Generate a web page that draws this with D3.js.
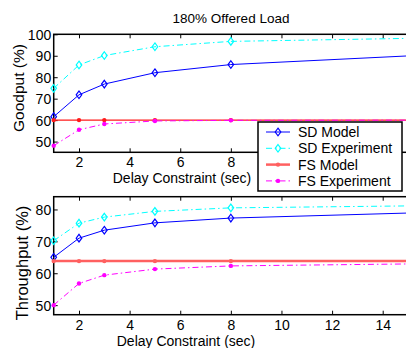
<!DOCTYPE html>
<html><head><meta charset="utf-8">
<script src="https://cdn.jsdelivr.net/npm/d3@7"></script>
<style>
body{margin:0;background:#fff}
svg{display:block}
text{font-family:"Liberation Sans",Arial,Helvetica,sans-serif;fill:#000}
</style>
</head><body>
<svg id="chart" width="406" height="348"></svg>
<script>
// Delay constraint (sec) at which each series was evaluated
const delays = [1, 2, 3, 5, 8, 16];

// Goodput (%)
const goodputSDModel = [61.6, 71.8, 76.8, 82.1, 85.9, 90.5];
const goodputSDExp   = [74.8, 85.7, 90.1, 94.2, 96.7, 98.3];
const goodputFSModel = [60.0, 60.0, 60.0, 60.0, 60.0, 60.0];
const goodputFSExp   = [48.1, 55.5, 58.2, 59.6, 59.9, 60.0];

// Throughput (%)
const throughputSDModel = [65.0, 71.0, 73.5, 75.8, 77.3, 79.1];
const throughputSDExp   = [70.2, 75.7, 77.6, 79.4, 80.5, 81.2];
const throughputFSModel = [63.8, 63.8, 63.8, 63.8, 63.8, 63.8];
const throughputFSExp   = [50.0, 56.8, 59.4, 61.3, 62.3, 63.0];

const seriesNames = ["SD Model", "SD Experiment", "FS Model", "FS Experiment"];
const xTicks = [2, 4, 6, 8, 10, 12, 14];
const goodputTicks = [50, 60, 70, 80, 90, 100];
const throughputTicks = [50, 60, 70, 80];

const styles = [
  {color: "#0000ff", dash: null, marker: "diamond", width: 1},
  {color: "#00ffff", dash: "6,3,1.5,3", marker: "diamond", width: 1},
  {color: "#ff1a1a", dash: null, marker: "dot", width: 1.3},
  {color: "#ff00ff", dash: "6,3,1.5,3", marker: "dot", width: 1}
];

const legendBox = {x: 258, y: 122, w: 144, h: 69};

const svg = d3.select("#chart");
const x = d3.scaleLinear().domain([1, 15]).range([53.7, 408]);

function drawPanel(opts) {
  const y = d3.scaleLinear().domain(opts.yDomain).range(opts.yRange);
  const [x0, x1] = x.range();
  const [yb, yt] = opts.yRange;
  const g = svg.append("g");

  const clipId = "clip" + opts.id;
  svg.append("defs").append("clipPath").attr("id", clipId)
    .append("rect").attr("x", 0).attr("y", yt - 10)
    .attr("width", x1).attr("height", yb - yt + 20);

  // axes with inward ticks, mirrored on the top edge
  const bottom = d3.axisBottom(x).tickValues(xTicks).tickSize(-4).tickFormat(d3.format("d"));
  const top = d3.axisTop(x).tickValues(xTicks).tickSize(-4).tickFormat("");
  const left = d3.axisLeft(y).tickValues(opts.yTicks).tickSize(-4).tickPadding(2.5).tickFormat(d3.format("d"));

  const gb = g.append("g").attr("transform", `translate(0,${yb})`).call(bottom);
  const gt = g.append("g").attr("transform", `translate(0,${yt})`).call(top);
  const gl = g.append("g").attr("transform", `translate(${x0},0)`).call(left);
  [gb, gt, gl].forEach(a => {
    a.select(".domain").remove();
    a.selectAll(".tick line").attr("stroke", "#000").attr("stroke-width", 1);
    a.selectAll(".tick text").attr("font-size", 14);
  });
  gb.selectAll(".tick text").attr("dy", null).attr("y", opts.xTickDy);
  // labels sitting under the legend box are covered by it
  if (opts.hideUnderLegend) {
    gb.selectAll(".tick text").filter(d => x(d) > legendBox.x - 6).remove();
  }
  gl.selectAll(".tick text").attr("dy", "0.36em");

  // axes box
  g.append("rect").attr("x", x0).attr("y", yt)
    .attr("width", x1 - x0).attr("height", yb - yt)
    .attr("fill", "none").attr("stroke", "#000").attr("stroke-width", 1.5);

  // axis labels
  g.append("text").attr("x", opts.xLabelX).attr("y", opts.xLabelY)
    .attr("text-anchor", "middle").attr("font-size", 14).text("Delay Constraint (sec)");
  g.append("text").attr("transform", `translate(${opts.yLabelX},${opts.yLabelY}) rotate(-90)`)
    .attr("text-anchor", "middle").attr("font-size", opts.yLabelSize).text(opts.yLabel);

  const data = g.append("g").attr("clip-path", `url(#${clipId})`);
  const line = d3.line().x(d => x(d[0])).y(d => y(d[1]));

  opts.series.forEach((vals, i) => {
    const st = Object.assign({}, styles[i], (opts.overrides || {})[i] || {});
    const pts = delays.map((d, k) => [d, vals[k]]);
    data.append("path").datum(pts).attr("d", line)
      .attr("fill", "none").attr("stroke", st.color)
      .attr("stroke-width", st.width)
      .attr("stroke-dasharray", st.dash);
    drawMarkers(data, pts.map(p => [x(p[0]), y(p[1])]), st);
  });
}

function drawMarkers(parent, pts, st) {
  if (st.marker === "diamond") {
    parent.selectAll(null).data(pts).enter().append("path")
      .attr("d", d => `M${d[0]},${d[1] - 3.8}L${d[0] + 2.8},${d[1]}L${d[0]},${d[1] + 3.8}L${d[0] - 2.8},${d[1]}Z`)
      .attr("fill", "none").attr("stroke", st.color).attr("stroke-width", 1.2);
  } else {
    parent.selectAll(null).data(pts).enter().append("circle")
      .attr("cx", d => d[0]).attr("cy", d => d[1]).attr("r", 2.2)
      .attr("fill", st.color);
  }
}

svg.append("text").attr("x", 231).attr("y", 23).attr("text-anchor", "middle")
  .attr("font-size", 13.5).text("180% Offered Load");

drawPanel({
  id: "g", yDomain: [45, 100], yRange: [152.3, 34.3], yTicks: goodputTicks,
  series: [goodputSDModel, goodputSDExp, goodputFSModel, goodputFSExp],
  yLabel: "Goodput (%)", yLabelX: 24, yLabelY: 88, yLabelSize: 15.5,
  xLabelX: 182, xLabelY: 183, xTickDy: 15, hideUnderLegend: true
});

drawPanel({
  id: "t", yDomain: [47, 84], yRange: [314.7, 196.7], yTicks: throughputTicks,
  series: [throughputSDModel, throughputSDExp, throughputFSModel, throughputFSExp],
  overrides: {2: {color: "#ff6060", width: 2.5}},
  yLabel: "Throughput (%)", yLabelX: 28, yLabelY: 263, yLabelSize: 16.5,
  xLabelX: 186, xLabelY: 345.5, xTickDy: 15.5
});

// legend
const lg = svg.append("g");
lg.append("rect").attr("x", legendBox.x).attr("y", legendBox.y)
  .attr("width", legendBox.w).attr("height", legendBox.h)
  .attr("fill", "#fff").attr("stroke", "#000").attr("stroke-width", 1.5);
seriesNames.forEach((name, i) => {
  const st = i === 2 ? Object.assign({}, styles[i], {color: "#ff6060", width: 2.5}) : styles[i];
  const by = 137 + i * 16.3;
  const ly = by - 5;
  lg.append("line").attr("x1", 266).attr("x2", 290).attr("y1", ly).attr("y2", ly)
    .attr("stroke", st.color).attr("stroke-width", st.width).attr("stroke-dasharray", st.dash);
  drawMarkers(lg, [[278, ly]], st);
  lg.append("text").attr("x", 298).attr("y", by).attr("font-size", 14).text(name);
});
</script>
</body></html>
